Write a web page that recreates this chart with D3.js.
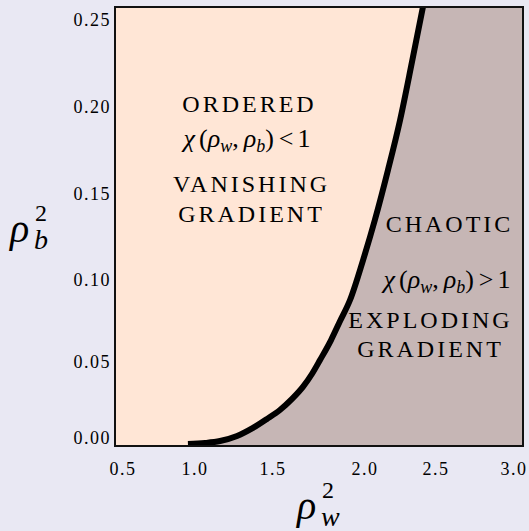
<!DOCTYPE html>
<html>
<head>
<meta charset="utf-8">
<script src="https://cdn.jsdelivr.net/npm/d3@7"></script>
<style>
  @font-face { font-family: 'CMish'; src: local('Liberation Serif'), local('LiberationSerif'); }
  @font-face { font-family: 'CMish'; font-style: italic; src: local('Liberation Serif Italic'), local('LiberationSerif-Italic'); }
</style>
</head>
<body style="margin:0; background:#e9e8f3">
<script>
// tick values
const xTicks = [0.5, 1.0, 1.5, 2.0, 2.5, 3.0];
const yTicks = [0.00, 0.05, 0.10, 0.15, 0.20, 0.25];

// critical line (order / chaos boundary)
const critW = [0.958, 1.071, 1.167, 1.276, 1.378, 1.468, 1.543, 1.609, 1.668, 1.717, 1.761, 1.821, 1.870, 1.924, 1.995, 2.077, 2.169, 2.254, 2.338, 2.415];
const critB = [-0.004, -0.0033, -0.002, 0.0013, 0.0066, 0.0125, 0.0184, 0.0257, 0.0336, 0.0421, 0.0512, 0.0634, 0.075, 0.0878, 0.1116, 0.135, 0.1638, 0.1925, 0.2259, 0.2575];

// region labels
const orderedLines = ['ORDERED', 'VANISHING', 'GRADIENT'];
const chaoticLines = ['CHAOTIC', 'EXPLODING', 'GRADIENT'];

// layout
const W = 529, H = 531;
const plot = {left: 115, right: 523, top: 7, bottom: 446};
// the tick labels in the reference sit at uneven spacings
const xTickPx = [122, 194, 272, 364, 435, 513];
const yTickPx = [438, 362, 280, 194, 107, 20];

const x = d3.scaleLinear().domain(xTicks).range(xTickPx);
const y = d3.scaleLinear().domain(yTicks).range(yTickPx);

const svg = d3.select('body').append('svg')
	.attr('width', W)
	.attr('height', H)
	.style('display', 'block');

svg.append('defs').append('clipPath')
	.attr('id', 'plotclip')
	.append('rect')
	.attr('x', plot.left).attr('y', plot.top)
	.attr('width', plot.right - plot.left)
	.attr('height', plot.bottom - plot.top);

// ordered region (background of the plot)
svg.append('rect')
	.attr('x', plot.left).attr('y', plot.top)
	.attr('width', plot.right - plot.left)
	.attr('height', plot.bottom - plot.top)
	.attr('fill', '#ffe6d6');

const crit = critW.map((w, i) => ({w: w, b: critB[i]}));

// chaotic region: right of the critical line
const wHi = x.invert(plot.right + 20), bLo = y.invert(plot.bottom + 20), bHi = y.invert(plot.top - 20);
const chaosPoly = crit.concat([
	{w: crit[crit.length - 1].w, b: bHi},
	{w: wHi, b: bHi},
	{w: wHi, b: bLo},
	{w: crit[0].w, b: bLo}
]);

const g = svg.append('g').attr('clip-path', 'url(#plotclip)');

g.append('path')
	.datum(chaosPoly)
	.attr('fill', '#c6b6b5')
	.attr('d', d3.line().x(d => x(d.w)).y(d => y(d.b)).curve(d3.curveLinearClosed));

g.append('path')
	.datum(crit)
	.attr('fill', 'none')
	.attr('stroke', '#000')
	.attr('stroke-width', 6)
	.attr('d', d3.line().x(d => x(d.w)).y(d => y(d.b)).curve(d3.curveMonotoneX));

// frame
svg.append('rect')
	.attr('x', plot.left).attr('y', plot.top)
	.attr('width', plot.right - plot.left)
	.attr('height', plot.bottom - plot.top)
	.attr('fill', 'none')
	.attr('stroke', '#111')
	.attr('stroke-width', 2);

// all texts go straight on the svg, one family each
function txt() {
	return svg.append('text')
		.style('font-family', "'Liberation Serif'");
}

// tick labels
xTicks.forEach(d => {
	txt()
		.attr('x', x(d) + 1)
		.attr('y', 475)
		.attr('text-anchor', 'middle')
		.style('font-size', '18px')
		.style('letter-spacing', '1.5px')
		.text(d3.format('.1f')(d));
});

yTicks.forEach(d => {
	txt()
		.attr('x', 111)
		.attr('y', y(d) + 6)
		.attr('text-anchor', 'end')
		.style('font-size', '18px')
		.style('letter-spacing', '1.5px')
		.text(d3.format('.2f')(d));
});

// axis labels: rho with sub/superscript
function rhoLabel(px, py, sub) {
	txt().attr('x', px).attr('y', py)
		.style('font-size', '40px').style('font-style', 'italic').text('ρ');
	txt().attr('x', px + 25).attr('y', py - 21)
		.style('font-size', '24px').text('2');
	txt().attr('x', px + 24).attr('y', py + 7)
		.style('font-size', '28px').style('font-style', 'italic').text(sub);
}
rhoLabel(10, 242, 'b');
rhoLabel(297, 519, 'w');

// region text
function caps(lines, cx, ys) {
	lines.forEach((d, i) => {
		txt()
			.attr('x', cx + 1.5)
			.attr('y', ys[i])
			.attr('text-anchor', 'middle')
			.style('font-size', '24px')
			.style('letter-spacing', '3px')
			.text(d);
	});
}

function chiLabel(cx, cy, rel) {
	const t = txt()
		.attr('x', cx).attr('y', cy)
		.attr('text-anchor', 'middle')
		.style('font-size', '26px');
	t.append('tspan').style('font-style', 'italic').text('χ');
	t.append('tspan').attr('dx', 4).text('(');
	t.append('tspan').style('font-style', 'italic').text('ρ');
	t.append('tspan').attr('dy', 5).style('font-size', '18px').style('font-style', 'italic').text('w');
	t.append('tspan').attr('dy', -5).text(',');
	t.append('tspan').attr('dx', 5).style('font-style', 'italic').text('ρ');
	t.append('tspan').attr('dy', 5).style('font-size', '18px').style('font-style', 'italic').text('b');
	t.append('tspan').attr('dy', -5).text(')');
	t.append('tspan').attr('dx', 5).text(rel);
	t.append('tspan').attr('dx', 4).text('1');
}

caps([orderedLines[0]], 248, [112]);
chiLabel(247, 147, '<');
caps(orderedLines.slice(1), 250, [192, 222]);

caps([chaoticLines[0]], 448, [232]);
chiLabel(447, 288, '>');
caps(chaoticLines.slice(1), 429, [328, 357]);
</script>
</body>
</html>
